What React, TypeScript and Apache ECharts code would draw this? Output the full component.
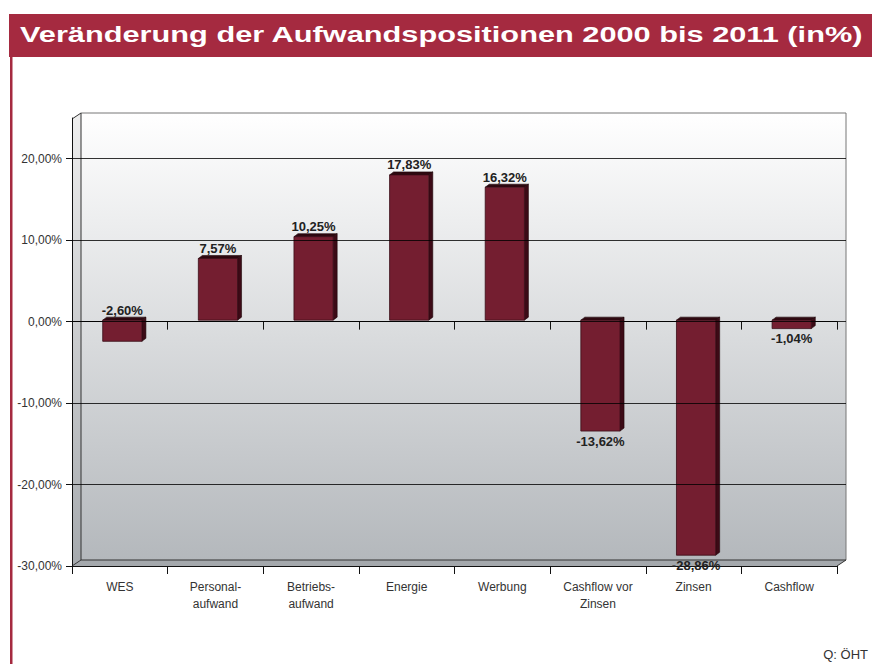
import React, { useEffect, useRef } from 'react';
import * as echarts from 'echarts';

// ---- data ----
const categories = [
  'WES',
  'Personal-\naufwand',
  'Betriebs-\naufwand',
  'Energie',
  'Werbung',
  'Cashflow vor\nZinsen',
  'Zinsen',
  'Cashflow',
];
const changes = [-2.6, 7.57, 10.25, 17.83, 16.32, -13.62, -28.86, -1.04];
const labelAbove = [true, true, true, true, true, false, false, false];
const titleText = 'Veränderung der Aufwandspositionen 2000 bis 2011 (in%)';
const sourceText = 'Q: ÖHT';

const FONT = '"Liberation Sans", Arial, sans-serif';
const RED = '#A52A40';
const fmt = (v: number) => v.toFixed(2).replace('.', ',') + '%';

export default function App() {
  const ref = useRef<HTMLDivElement>(null);
  useEffect(() => {
    if (!ref.current) return;
    const chart = echarts.init(ref.current, undefined, { renderer: 'svg' });

    const wallGrad = {
      type: 'linear', x: 0, y: 0, x2: 0, y2: 1,
      colorStops: [
        { offset: 0, color: '#ffffff' },
        { offset: 1, color: '#b4b8bc' },
      ],
    };
    const sideGrad = {
      type: 'linear', x: 0, y: 0, x2: 0, y2: 1,
      colorStops: [
        { offset: 0, color: '#eeeeee' },
        { offset: 1, color: '#a6aaae' },
      ],
    };
    const lineStyle = { stroke: '#333', lineWidth: 1 };

    const option: any = {
      animation: false,
      backgroundColor: '#ffffff',
      textStyle: { fontFamily: FONT },
      graphic: [
        { type: 'rect', z: -20, shape: { x: 9, y: 14, width: 863, height: 43 }, style: { fill: RED } },
        { type: 'rect', z: -20, shape: { x: 10, y: 57, width: 2.5, height: 607 }, style: { fill: RED } },
        {
          type: 'text', z: 10, x: 20, y: 35, scaleX: 1.43, scaleY: 1,
          style: { text: titleText, fill: '#ffffff', font: `bold 21.5px ${FONT}`, textVerticalAlign: 'middle' },
        },
        {
          type: 'text', z: 10, x: 868, y: 654,
          style: { text: sourceText, fill: '#333', font: `13px ${FONT}`, textAlign: 'right', textVerticalAlign: 'middle' },
        },
        // back wall
        { type: 'rect', z: -20, shape: { x: 81, y: 113, width: 765, height: 447 }, style: { fill: wallGrad } },
        // side wall
        { type: 'polygon', z: -19, shape: { points: [[72, 119], [81, 113], [81, 560], [72, 566]] }, style: { fill: sideGrad } },
        // floor
        { type: 'polygon', z: -19, shape: { points: [[72, 566], [81, 560], [846, 560], [837, 566]] }, style: { fill: '#a4a8ac' } },
        // frame lines
        { type: 'line', z: -5, shape: { x1: 81, y1: 113, x2: 846, y2: 113 }, style: { stroke: '#777', lineWidth: 1 } },
        { type: 'line', z: -5, shape: { x1: 72, y1: 119, x2: 81, y2: 113 }, style: lineStyle },
        { type: 'line', z: -5, shape: { x1: 81, y1: 113, x2: 81, y2: 560 }, style: lineStyle },
        { type: 'line', z: -5, shape: { x1: 846, y1: 113, x2: 846, y2: 560 }, style: { stroke: '#777', lineWidth: 1 } },
        { type: 'line', z: -5, shape: { x1: 81, y1: 560, x2: 846, y2: 560 }, style: lineStyle },
        { type: 'line', z: -5, shape: { x1: 72, y1: 566, x2: 81, y2: 560 }, style: lineStyle },
        { type: 'line', z: -5, shape: { x1: 837, y1: 566, x2: 846, y2: 560 }, style: lineStyle },
      ],
      grid: [
        { left: 72, right: 35, top: 118, bottom: 98 },
        { left: 72, right: 26, top: 158.727, bottom: 179.455 },
      ],
      xAxis: [
        {
          type: 'category', gridIndex: 0, data: categories, position: 'bottom',
          axisLine: { onZero: false, lineStyle: { color: '#111', width: 1 } },
          axisTick: { show: true, length: 8, lineStyle: { color: '#111' } },
          axisLabel: { color: '#333', fontSize: 12, fontFamily: FONT, margin: 12, lineHeight: 17, interval: 0 },
          splitLine: { show: false },
        },
        {
          type: 'category', gridIndex: 0, data: categories, position: 'bottom',
          axisLine: { onZero: true, lineStyle: { color: '#111', width: 1 } },
          axisTick: { show: true, length: 8, lineStyle: { color: '#111' } },
          axisLabel: { show: false },
          splitLine: { show: false },
        },
        { type: 'value', gridIndex: 1, show: false, min: 0, max: 1 },
      ],
      yAxis: [
        {
          type: 'value', gridIndex: 0, min: -30, max: 25, interval: 10,
          axisLine: { show: true, lineStyle: { color: '#111', width: 1 } },
          axisTick: { show: true, length: 6, lineStyle: { color: '#111' } },
          axisLabel: {
            color: '#333', fontSize: 12, fontFamily: FONT, margin: 10, showMaxLabel: false,
            formatter: (v: number) => (v > 20 ? '' : fmt(v)),
          },
          splitLine: { show: false },
        },
        {
          type: 'value', gridIndex: 1, min: -20, max: 20, interval: 10, z: 5,
          axisLine: { show: false }, axisTick: { show: false }, axisLabel: { show: false },
          splitLine: { show: true, lineStyle: { color: 'rgba(0,0,0,0.8)', width: 1 } },
        },
      ],
      series: [
        {
          type: 'custom',
          xAxisIndex: 0,
          yAxisIndex: 0,
          z: 2,
          data: changes.map((v, i) => [i, v]),
          encode: { x: 0, y: 1 },
          renderItem: (params: any, api: any) => {
            const idx = api.value(0);
            const v = api.value(1);
            const base = api.coord([idx, 0]);
            const tip = api.coord([idx, v]);
            const bw = api.size([1, 0])[0] * 0.41;
            const x0 = base[0] - bw / 2 + 2.5;
            const x1 = x0 + bw;
            const yTop = Math.min(base[1], tip[1]) - 1.5;
            const yBot = Math.max(base[1], tip[1]) - 1.5;
            const d = 4;
            const e = 3;
            const above = labelAbove[params.dataIndex];
            const ly = above ? yTop - 10 : yBot + 10;
            return {
              type: 'group',
              children: [
                {
                  type: 'polygon',
                  shape: { points: [[x1, yTop], [x1 + d, yTop - e], [x1 + d, yBot - e], [x1, yBot]] },
                  style: { fill: '#3c0a16', stroke: '#1e0509', lineWidth: 0.6 },
                },
                {
                  type: 'polygon',
                  shape: { points: [[x0, yTop], [x0 + d, yTop - e], [x1 + d, yTop - e], [x1, yTop]] },
                  style: { fill: '#2e0810', stroke: '#1e0509', lineWidth: 0.6 },
                },
                {
                  type: 'rect',
                  shape: { x: x0, y: yTop, width: bw, height: yBot - yTop },
                  style: { fill: '#741e30', stroke: '#3a0c16', lineWidth: 0.8 },
                },
                {
                  type: 'text',
                  x: base[0] + 2.5,
                  y: ly,
                  style: {
                    text: fmt(v),
                    fill: '#222',
                    font: `bold 13px ${FONT}`,
                    textAlign: 'center',
                    textVerticalAlign: 'middle',
                  },
                },
              ],
            };
          },
        },
      ],
    };
    chart.setOption(option);
    return () => chart.dispose();
  }, []);
  return (
    <div
      ref={ref}
      style={{ position: 'fixed', left: 0, top: 0, width: 872, height: 664 }}
    />
  );
}
